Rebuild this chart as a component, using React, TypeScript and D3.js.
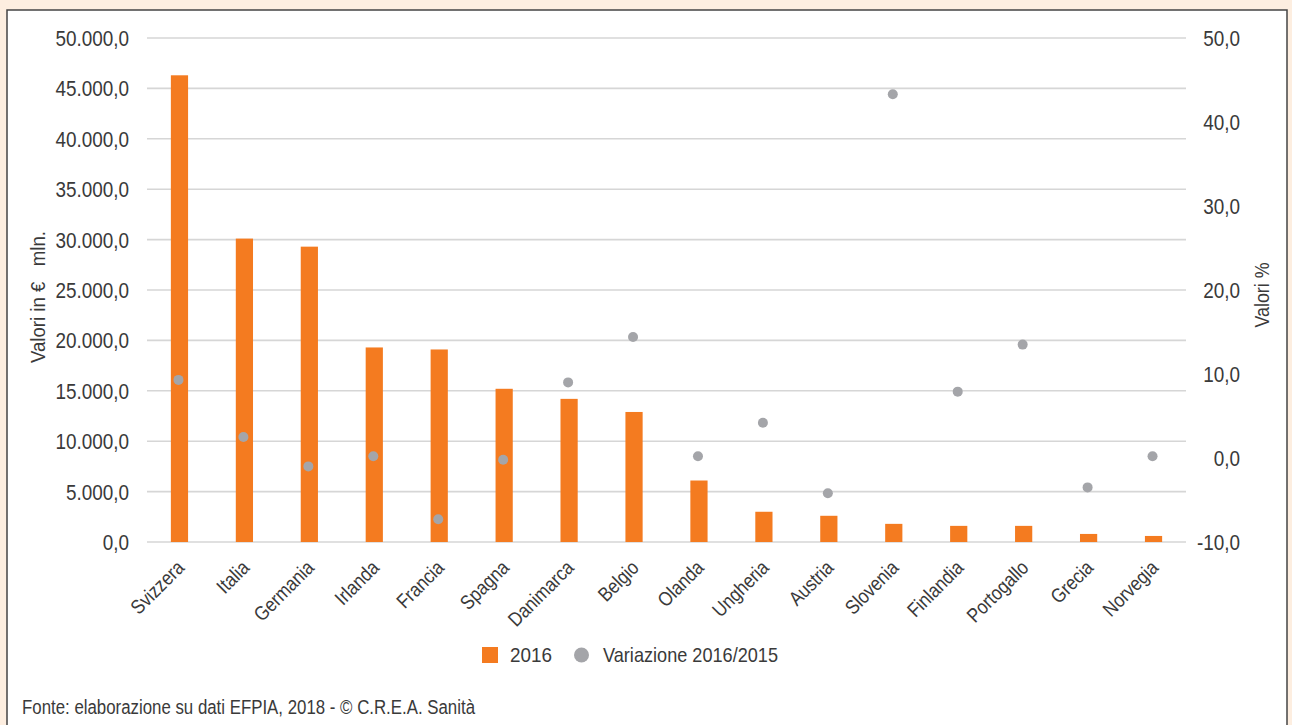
import React from "react";
import * as d3 from "d3";

const categories = ["Svizzera","Italia","Germania","Irlanda","Francia","Spagna","Danimarca","Belgio","Olanda","Ungheria","Austria","Slovenia","Finlandia","Portogallo","Grecia","Norvegia"];
const values2016 = [46300,30100,29300,19300,19100,15200,14200,12900,6100,3000,2600,1800,1600,1600,800,600];
const variazione = [9.3,2.5,-1.0,0.2,-7.3,-0.2,9.0,14.4,0.2,4.2,-4.2,43.3,7.9,13.5,-3.5,0.2];
const leftTicks = [0,5000,10000,15000,20000,25000,30000,35000,40000,45000,50000];
const rightTicks = [-10,0,10,20,30,40,50];

const W = 1292, H = 725;
const FONT = "'Liberation Sans', Arial, sans-serif";
const TXT = "#3a3a3a";
const SX = 0.86;

const fmt = (v: number, dec: number) => {
  const s = Math.abs(v).toFixed(dec).split(".");
  const int = s[0].replace(/\B(?=(\d{3})+(?!\d))/g, ".");
  return (v < 0 ? "-" : "") + int + "," + s[1];
};

function T({ x, y, rot = 0, size, anchor = "start", dy, children, len }: any) {
  return (
    <g transform={`translate(${x} ${y}) rotate(${rot}) scale(${len ? 1 : SX} 1)`}>
      <text x={0} y={0} dy={dy} textAnchor={anchor} fontSize={size} fill={TXT}
        textLength={len} lengthAdjust={len ? "spacingAndGlyphs" : undefined}>{children}</text>
    </g>
  );
}

export default function App() {
  const plotL = 147, plotR = 1186, plotT = 38, plotB = 542;
  const x = d3.scaleBand<string>().domain(categories).range([plotL, plotR]);
  const yL = d3.scaleLinear().domain([0, 50000]).range([plotB, plotT]);
  const yR = d3.scaleLinear().domain([-10, 50]).range([plotB, plotT]);
  const bw = x.bandwidth() * 0.265;
  const cxOf = (c: string) => (x(c) as number) + x.bandwidth() / 2;
  return (
    <svg width={W} height={H} style={{ position: "absolute", left: 0, top: 0 }} fontFamily={FONT}>
      <rect x={0} y={0} width={W} height={H} fill="#fdeee0" />
      <rect x={7} y={10} width={1280} height={740} fill="#fff" stroke="#444" strokeWidth={1.5} />
      {leftTicks.map((t) => (
        <g key={t}>
          <line x1={plotL} x2={plotR} y1={yL(t)} y2={yL(t)} stroke="#d6d6d6" strokeWidth={1.6} />
          <T x={129} y={yL(t)} dy="0.36em" anchor="end" size={22}>{fmt(t, 1)}</T>
        </g>
      ))}
      {rightTicks.map((t) => (
        <T key={t} x={1240} y={yR(t)} dy="0.36em" anchor="end" size={22}>{fmt(t, 1)}</T>
      ))}
      {categories.map((c, i) => (
        <rect key={c} x={cxOf(c) - bw / 2} y={yL(values2016[i])} width={bw} height={plotB - yL(values2016[i])} fill="#f47b20" />
      ))}
      {categories.map((c, i) => (
        <circle key={c} cx={cxOf(c) - 1} cy={yR(variazione[i])} r={5} fill="#a4a5a9" />
      ))}
      {categories.map((c) => (
        <T key={c} x={cxOf(c) + 6} y={569} rot={-45} anchor="end" size={20}>{c}</T>
      ))}
      <T x={45} y={297} rot={-90} anchor="middle" size={20} len={132}>{"Valori in €\u00a0\u00a0 mln."}</T>
      <T x={1269} y={295} rot={-90} anchor="middle" size={20} len={65}>Valori %</T>
      <rect x={482} y={647} width={16} height={16} fill="#f47b20" />
      <T x={510} y={662} size={21} len={42}>2016</T>
      <circle cx={581.5} cy={655} r={7.5} fill="#a4a5a9" />
      <T x={603} y={662} size={21} len={175}>Variazione 2016/2015</T>
      <T x={22} y={714} size={20} len={453}>Fonte: elaborazione su dati EFPIA, 2018 - © C.R.E.A. Sanità</T>
    </svg>
  );
}
